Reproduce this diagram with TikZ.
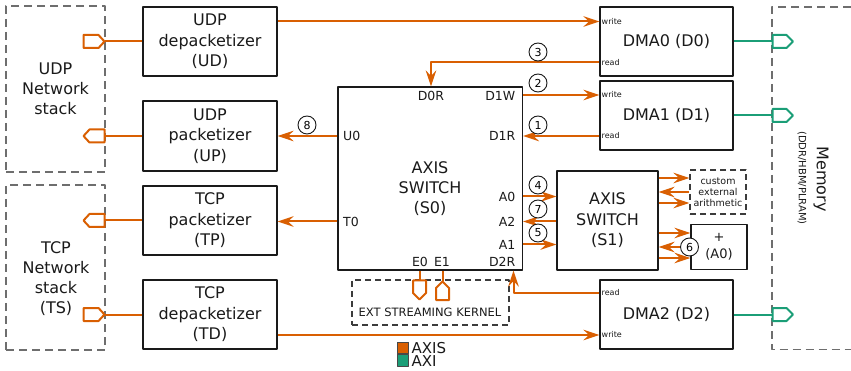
\documentclass[tikz,border=0pt]{standalone}
\usepackage{fontspec}
\setmainfont{DejaVu Sans}
\usetikzlibrary{arrows.meta}
\definecolor{axisc}{HTML}{D95F02}
\definecolor{axic}{HTML}{1B9E77}
\definecolor{inkc}{HTML}{1A1A1A}
\definecolor{dashc}{HTML}{6E6E6E}

\begin{document}
\begin{tikzpicture}[x=1pt, y=-1pt, line join=round,
    blk/.style={draw=inkc, line width=1.1pt, fill=white, inner sep=0pt, align=center,
                text=inkc, font=\fontsize{16}{20.5}\selectfont},
    stackbox/.style={draw=dashc, line width=1.2pt, dash pattern=on 8pt off 5pt, inner sep=0pt,
                align=center, text=inkc, font=\fontsize{16}{20}\selectfont},
    kernbox/.style={draw=inkc!85, line width=1.1pt, dash pattern=on 6pt off 4pt, inner sep=0pt,
                align=center, text=inkc},
    txt/.style={inner sep=0pt, align=center, text=inkc, font=\fontsize{16}{20}\selectfont},
    plbl/.style={inner sep=0pt, text=inkc, font=\fontsize{12.5}{14}\selectfont},
    rwlbl/.style={inner sep=0pt, anchor=west, text=inkc, font=\fontsize{8}{9}\selectfont},
    num/.style={circle, draw=inkc, line width=0.9pt, fill=white, minimum size=18pt,
                inner sep=0pt, font=\fontsize{11}{11}\selectfont},
    axline/.style={draw=axisc, line width=2pt},
    axarr/.style={axline, -{Stealth[length=16pt, width=10.5pt, inset=5.5pt]}},
    axiline/.style={draw=axic, line width=2pt},
    axport/.style={draw=axisc, fill=white, line width=2pt},
    axiport/.style={draw=axic, fill=white, line width=2pt},
    legsq/.style={draw=inkc!80, line width=1pt, minimum size=11.5pt, inner sep=0pt},
    legtxt/.style={inner sep=0pt, anchor=west, text=inkc, text height=10.5pt, text depth=0pt,
                font=\fontsize{15}{15}\selectfont},
  ]

  %% ════ network stacks / memory (dashed) ════
  \node[stackbox, minimum width=99pt, minimum height=166pt] (uns) at (55.5,89) {UDP\\Network\\stack};
  \node[stackbox, minimum width=99pt, minimum height=165pt] (tns) at (55.5,267.5) {};
  \node[txt] (tnsl) at (56,278.5) {TCP\\Network\\stack\\(TS)};
  \draw[draw=dashc, line width=1.2pt, dash pattern=on 8pt off 5pt] (851,7) -| (772,349.5) -- (851,349.5);
  \node[rotate=-90, inner sep=0pt, text=inkc, font=\fontsize{16}{18}\selectfont] (meml) at (821,179) {Memory};
  \node[rotate=-90, inner sep=0pt, text=inkc, font=\fontsize{10}{12}\selectfont] (mems) at (802,178) {(DDR/HBM/PLRAM)};

  %% ════ packetizers ════
  \node[blk, minimum width=134pt, minimum height=69pt] (ud) at (210,41.5) {UDP\\depacketizer\\(UD)};
  \node[blk, minimum width=134pt, minimum height=70pt] (up) at (210,136) {UDP\\packetizer\\(UP)};
  \node[blk, minimum width=134pt, minimum height=69pt] (tp) at (210,220.5) {TCP\\packetizer\\(TP)};
  \node[blk, minimum width=134pt, minimum height=69pt] (td) at (210,314.5) {TCP\\depacketizer\\(TD)};

  %% ════ switches ════
  \node[blk, minimum width=184.5pt, minimum height=183pt] (s0) at (430.25,178.5) {};
  \node[txt] (s0l) at (430,189) {AXIS\\SWITCH\\(S0)};
  \node[blk, minimum width=101pt, minimum height=99pt] (s1) at (607.5,220.5) {AXIS\\SWITCH\\(S1)};
  \node[kernbox, minimum width=56pt, minimum height=44pt, font=\fontsize{9.5}{11}\selectfont]
    (cea) at (718,192) {custom\\external\\arithmetic};
  \node[blk, minimum width=56pt, minimum height=45pt, font=\fontsize{13}{16.5}\selectfont] (a0) at (719,247) {+\\(A0)};

  %% S0 port labels
  \node[plbl] (s0d0r) at (431,96) {D0R};
  \node[plbl, anchor=east] (s0d1w) at (515.5,96) {D1W};
  \node[plbl, anchor=west] (s0u0) at (343,136) {U0};
  \node[plbl, anchor=east] (s0d1r) at (515.5,136) {D1R};
  \node[plbl, anchor=east] (s0a0) at (515.5,196.5) {A0};
  \node[plbl, anchor=east] (s0a2) at (515.5,221.5) {A2};
  \node[plbl, anchor=east] (s0a1) at (515.5,244.5) {A1};
  \node[plbl, anchor=west] (s0t0) at (343,221.5) {T0};
  \node[plbl] (s0e0) at (420,262) {E0};
  \node[plbl] (s0e1) at (442,262) {E1};
  \node[plbl, anchor=east] (s0d2r) at (515.5,262) {D2R};

  %% ════ DMA engines ════
  \node[blk, minimum width=133pt, minimum height=69pt] (d0) at (666.5,41.5) {DMA0 (D0)};
  \node[blk, minimum width=133pt, minimum height=69pt] (d1) at (666.5,115.5) {DMA1 (D1)};
  \node[blk, minimum width=133pt, minimum height=69pt] (d2) at (666.5,314.5) {DMA2 (D2)};
  \node[rwlbl] (d0w) at (601.5,21.5) {write};
  \node[rwlbl] (d0r) at (601.5,62.5) {read};
  \node[rwlbl] (d1w) at (601.5,95) {write};
  \node[rwlbl] (d1r) at (601.5,136) {read};
  \node[rwlbl] (d2r) at (601.5,293) {read};
  \node[rwlbl] (d2w) at (601.5,335) {write};

  %% ════ streaming kernel ════
  \node[kernbox, minimum width=157pt, minimum height=45pt] (ek) at (430.5,302.5) {};
  \node[plbl, font=\fontsize{11.5}{13}\selectfont] (ekl) at (430,312) {EXT STREAMING KERNEL};

  %% ════ ports (pentagons) ════
  \draw[axport] (83.5,35) -- ++(15,0) -- ++(6,6.5) -- ++(-6,6.5) -- ++(-15,0) -- cycle;
  \coordinate (udport) at (104.5,41.5);
  \draw[axport] (104.5,129.5) -- ++(-15,0) -- ++(-6,6.5) -- ++(6,6.5) -- ++(15,0) -- cycle;
  \coordinate (upport) at (104.5,136);
  \draw[axport] (104.5,214) -- ++(-15,0) -- ++(-6,6.5) -- ++(6,6.5) -- ++(15,0) -- cycle;
  \coordinate (tpport) at (104.5,220.5);
  \draw[axport] (83.5,308) -- ++(15,0) -- ++(6,6.5) -- ++(-6,6.5) -- ++(-15,0) -- cycle;
  \coordinate (tdport) at (104.5,314.5);
  \draw[axport] (413,280.5) -- ++(13,0) -- ++(0,12.5) -- ++(-6.5,6.5) -- ++(-6.5,-6.5) -- cycle;
  \coordinate (e0port) at (419.5,280.5);
  \draw[axport] (442.5,281.5) -- ++(6.5,6.5) -- ++(0,12) -- ++(-13,0) -- ++(0,-12) -- cycle;
  \coordinate (e1port) at (442.5,281.5);
  \draw[axiport] (772.5,35) -- ++(14,0) -- ++(6.5,6.5) -- ++(-6.5,6.5) -- ++(-14,0) -- cycle;
  \coordinate (m0port) at (772.5,41.5);
  \draw[axiport] (772.5,109) -- ++(14,0) -- ++(6.5,6.5) -- ++(-6.5,6.5) -- ++(-14,0) -- cycle;
  \coordinate (m1port) at (772.5,115.5);
  \draw[axiport] (772.5,308) -- ++(14,0) -- ++(6.5,6.5) -- ++(-6.5,6.5) -- ++(-14,0) -- cycle;
  \coordinate (m2port) at (772.5,314.5);

  %% ════ AXIS links ════
  \draw[axline] (ud.west) -- (udport);
  \draw[axline] (upport) -- (up.west);
  \draw[axline] (tpport) -- (tp.west);
  \draw[axline] (td.west) -- (tdport);
  \draw[axarr] (ud.east |- d0w) -- (d0.west |- d0w);
  \draw[axarr] (d0.west |- d0r) -| (s0.north -| s0d0r);
  \draw[axarr] (s0.east |- d1w) -- (d1.west |- d1w);
  \draw[axarr] (d1.west |- d1r) -- (s0.east |- d1r);
  \draw[axarr] (s0.west |- up) -- (up.east);
  \draw[axarr] (s0.west |- s0t0) -- (tp.east |- s0t0);
  \draw[axarr] (s0.east |- s0a0) -- (s1.west |- s0a0);
  \draw[axarr] (s1.west |- s0a2) -- (s0.east |- s0a2);
  \draw[axarr] (s0.east |- s0a1) -- (s1.west |- s0a1);
  \draw[axarr] (d2.west |- d2r) -| ([xshift=-2pt]s0.south -| s0d2r.east);
  \draw[axarr] (td.east |- d2w) -- (d2.west |- d2w);
  \draw[axline] (s0.south -| e0port) -- (e0port);
  \draw[axline] (s0.south -| e1port) -- (e1port);
  % S1 -> custom arithmetic / adder
  \draw[axarr] (s1.east |- 0,178) -- (cea.west |- 0,178);
  \draw[axarr] (cea.west |- 0,192) -- (s1.east |- 0,192);
  \draw[axarr] (s1.east |- 0,203) -- (cea.west |- 0,203);
  \draw[axarr] (s1.east |- 0,233) -- (a0.west |- 0,233);
  \draw[axarr] (a0.west |- 0,247) -- (s1.east |- 0,247);
  \draw[axarr] (s1.east |- 0,258) -- (a0.west |- 0,258);

  %% ════ AXI links ════
  \draw[axiline] (d0.east) -- (m0port);
  \draw[axiline] (d1.east) -- (m1port);
  \draw[axiline] (d2.east) -- (m2port);

  %% ════ step numbers ════
  \node[num] (n1) at (538,125) {1};
  \node[num] (n2) at (538,83) {2};
  \node[num] (n3) at (538,52) {3};
  \node[num] (n4) at (538,185) {4};
  \node[num] (n5) at (538,233) {5};
  \node[num] (n6) at (689.5,247) {6};
  \node[num] (n7) at (538,209) {7};
  \node[num] (n8) at (307,125) {8};

  %% ════ legend ════
  \node[legsq, fill=axisc] (lgaxis) at (403,348) {};
  \node[legsq, fill=axic] (lgaxi) at (403,360.5) {};
  \node[legtxt] (lgaxist) at (411.5,348) {AXIS};
  \node[legtxt] (lgaxit) at (411.5,361) {AXI};

  \pgfresetboundingbox
  \path[use as bounding box] (0,0) rectangle (851,371);
\end{tikzpicture}
\end{document}
